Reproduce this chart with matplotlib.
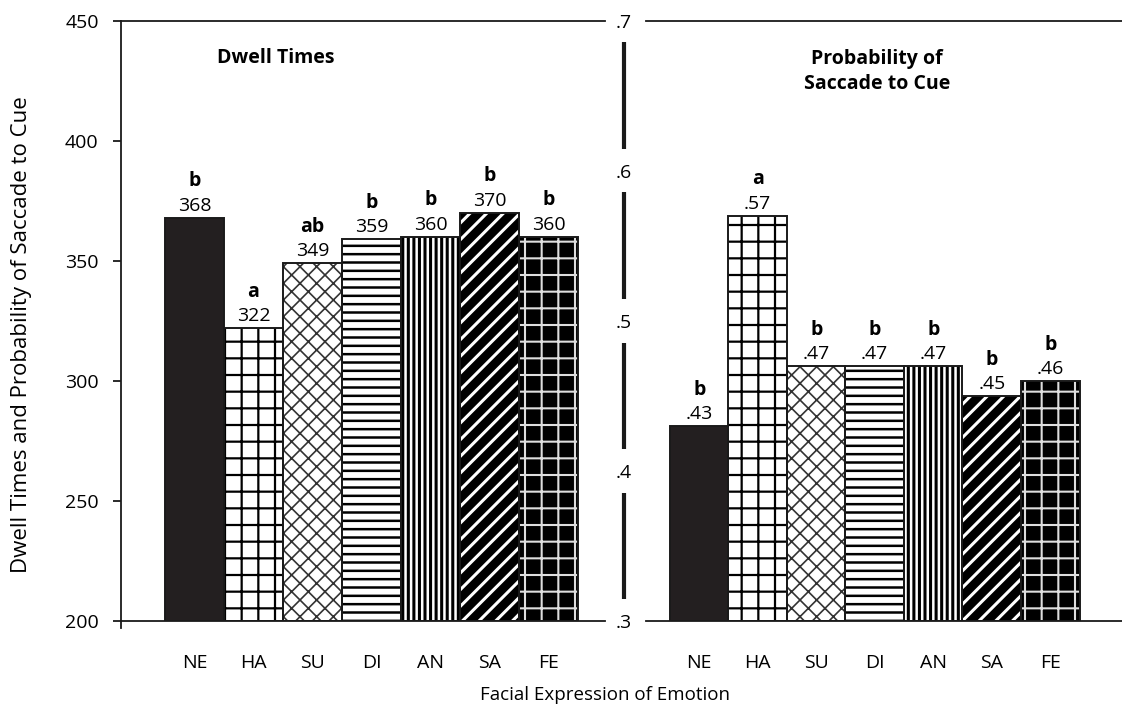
import matplotlib
matplotlib.use("Agg")
import matplotlib.pyplot as plt

plt.rcParams['font.family'] = ['Open Sans', 'DejaVu Sans']

emotions = ["NE", "HA", "SU", "DI", "AN", "SA", "FE"]
dwell_times = [368, 322, 349, 359, 360, 370, 360]
dwell_groups = ["b", "a", "ab", "b", "b", "b", "b"]
saccade_prob = [0.43, 0.57, 0.47, 0.47, 0.47, 0.45, 0.46]
saccade_groups = ["b", "a", "b", "b", "b", "b", "b"]

dwell_ticks = [200, 250, 300, 350, 400, 450]
prob_ticks = [0.3, 0.4, 0.5, 0.6, 0.7]

# fill, hatch, hatch colour, hatch line width for each emotion
styles = [
    ("#231f20", "", "black", 1.0),
    ("white", "+", "black", 1.6),
    ("white", "xx", "#333333", 1.2),
    ("white", "--", "black", 1.8),
    ("white", "|||", "black", 2.2),
    ("black", "//", "white", 2.2),
    ("black", "+", "#dddddd", 1.5),
]

FS = 14


def draw_bars(ax, values, base):
    for i, v in enumerate(values):
        face, hatch, hcol, hlw = styles[i]
        plt.rcParams['hatch.linewidth'] = hlw
        b = ax.bar(i, v - base, bottom=base, width=1.0, color=face,
                   edgecolor=hcol, hatch=hatch, linewidth=0, zorder=2)
        for p in b:
            if hasattr(p, "set_hatch_linewidth"):
                p.set_hatch_linewidth(hlw)
        ax.bar(i, v - base, bottom=base, width=1.0, fill=False,
               edgecolor="#1a1a1a", linewidth=1.4, zorder=3)


def label_bars(ax, values, groups, fmt):
    for i, (v, g) in enumerate(zip(values, groups)):
        ax.annotate(fmt(v), (i, v), xytext=(0, 5), textcoords="offset points",
                    ha="center", va="baseline", fontsize=FS)
        ax.annotate(g, (i, v), xytext=(0, 22.5), textcoords="offset points",
                    ha="center", va="baseline", fontsize=FS, fontweight="bold")


fig = plt.figure(figsize=(11.22, 7.10), dpi=100)
ax1 = fig.add_axes([0.1078, 0.1254, 0.4483, 0.8456])
ax2 = fig.add_axes([0.5561, 0.1254, 0.4439, 0.8456])

# left panel: dwell times
draw_bars(ax1, dwell_times, 200)
label_bars(ax1, dwell_times, dwell_groups, lambda v: f"{v:d}")
ax1.set_xlim(-1.246, 7.28)
ax1.set_ylim(200, 450)
for s in ["top", "right", "bottom"]:
    ax1.spines[s].set_visible(False)
ax1.spines["left"].set_linewidth(1.3)
ax1.spines["left"].set_color("#1a1a1a")
ax1.axhline(450, 0, 0.962, color="#1a1a1a", lw=1.3, clip_on=False)
ax1.axhline(200, 0, 0.962, color="#1a1a1a", lw=1.3, clip_on=False)
ax1.plot([0, 0], [0, -0.011], transform=ax1.transAxes, color="#1a1a1a",
         lw=1.3, clip_on=False)
ax1.set_yticks(dwell_ticks)
ax1.tick_params(axis="y", direction="out", length=6, width=1.3, pad=10,
                labelsize=FS, color="#1a1a1a")
ax1.set_xticks(range(len(emotions)))
ax1.set_xticklabels(emotions)
ax1.tick_params(axis="x", length=0, pad=24, labelsize=FS)
ax1.text(0.308, 0.938, "Dwell Times", transform=ax1.transAxes, ha="center",
         va="center", fontsize=FS, fontweight="bold")

# right panel: probability of saccade to cue
draw_bars(ax2, saccade_prob, 0.3)
label_bars(ax2, saccade_prob, saccade_groups,
           lambda v: f"{v:.2f}".lstrip("0"))
ax2.set_xlim(-1.286, 7.226)
ax2.set_ylim(0.3, 0.7)
for s in ax2.spines.values():
    s.set_visible(False)
ax2.axhline(0.7, 0.044, 1, color="#1a1a1a", lw=1.3, clip_on=False)
ax2.axhline(0.3, 0.044, 1, color="#1a1a1a", lw=1.3, clip_on=False)
ax2.set_yticks([])
ax2.set_xticks(range(len(emotions)))
ax2.set_xticklabels(emotions)
ax2.tick_params(axis="x", length=0, pad=24, labelsize=FS)

# broken vertical axis with labels sitting in the gaps
gap = 0.0145
ytr = ax2.get_yaxis_transform()
for lo, hi in zip(prob_ticks[:-1], prob_ticks[1:]):
    ax2.plot([0, 0], [lo + gap, hi - gap], transform=ytr, color="#1a1a1a",
             lw=3.0, clip_on=False, solid_capstyle="butt")
for t in prob_ticks:
    ax2.text(0, t, f"{t:.1f}".lstrip("0"), transform=ytr, ha="center",
             va="center_baseline", fontsize=FS)
ax2.text(0.508, 0.915, "Probability of\nSaccade to Cue", transform=ax2.transAxes,
         ha="center", va="center", fontsize=FS, fontweight="bold",
         linespacing=1.3)

fig.text(22 / 1122, 1 - 335 / 710,
         "Dwell Times and Probability of Saccade to Cue",
         rotation=90, ha="center", va="center", fontsize=16)
fig.text(605 / 1122, 1 - 695 / 710, "Facial Expression of Emotion",
         ha="center", va="center", fontsize=13.5)

fig.savefig("out.png", dpi=100)
